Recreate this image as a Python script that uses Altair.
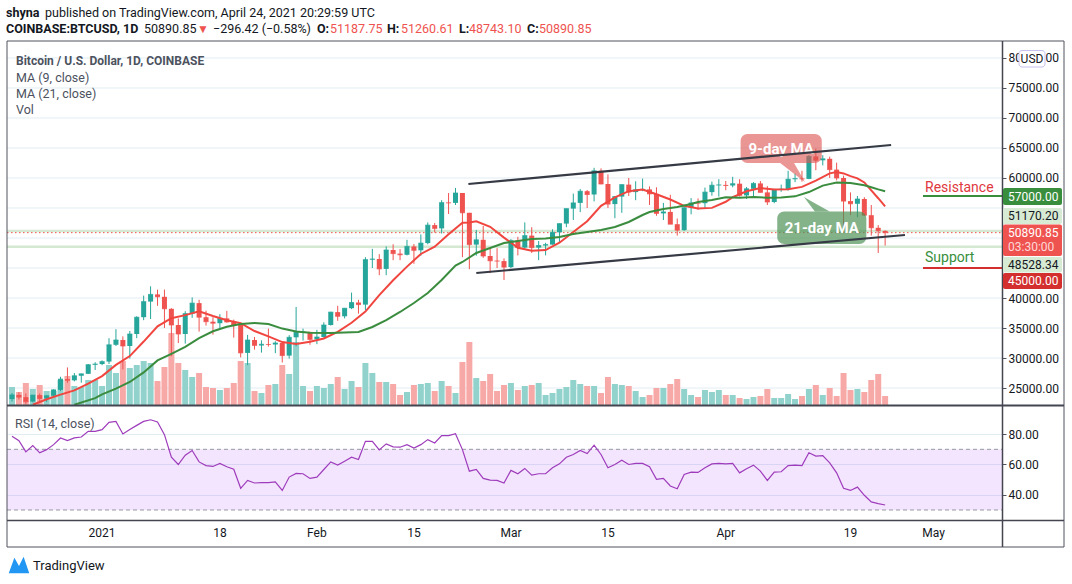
import altair as alt
import pandas as pd

# ------------------------------------------------------------------ data
dates = pd.date_range("2020-12-19", "2021-04-24", freq="D").strftime("%Y-%m-%dT00:00:00Z").tolist()

opens = [
    23150, 23850, 23480, 22730, 23820, 23250, 23720, 24690, 26480, 26280, 27040, 27360, 28880,
    28990, 29400, 32200, 33000, 32000, 34000, 36800, 39400, 40600, 40200, 38200, 35500, 34000, 37400, 39150, 36800,
    36050, 35800, 36600, 36000, 35500, 30850, 33000, 32100, 32300, 32250, 32500, 30400, 33450, 34300, 34350,
    33100, 33500, 35500, 37650, 36950, 38300, 39250, 38900, 46400, 46500, 44850, 48000, 47400, 47200, 48600,
    47950, 49150, 52150, 51600, 55900, 55850, 57500, 54200, 48900, 49700, 47000, 46200, 46150,
    45150, 49600, 48400, 50400, 48400, 48750, 48900, 50950, 52400, 54900, 55850, 57800, 57250, 61200, 59000,
    55650, 56900, 58900, 57650, 58050, 58100, 57350, 54100, 54350, 52300, 51300, 55050, 55850, 55800, 57650, 58800,
    58850, 58750, 59050, 57100, 58200, 59100, 57600, 56000, 58100, 58150, 59800, 59900, 59850, 63600, 62950,
    63200, 61400, 60000, 56150, 55700, 56500, 53800, 51700, 51187.75,
]
highs = [
    24170, 24300, 24100, 23850, 24100, 23790, 24770, 26870, 28420, 27500, 27400, 29000, 29300,
    29600, 33300, 34800, 33600, 34500, 36950, 40400, 41950, 41400, 41400, 38300, 36600, 37800, 40100, 39700, 37900,
    36800, 37300, 37850, 36400, 35600, 33850, 33500, 32950, 34900, 32800, 32550, 33800, 38500, 34900, 34350,
    34700, 35950, 37700, 38700, 38300, 40900, 39700, 46800, 48200, 47300, 48600, 48950, 48150, 49700, 49000,
    50600, 52600, 52500, 56300, 57500, 58350, 57500, 54200, 51350, 52000, 48400, 48300, 46600,
    49800, 50200, 52600, 51800, 49500, 49200, 51450, 52400, 54900, 57400, 58150, 58000, 61700, 61600, 60600,
    56950, 58950, 60000, 59450, 59900, 58600, 58450, 55850, 57200, 53250, 55100, 56650, 56600, 58400, 59400, 59800,
    59500, 60200, 59800, 58500, 59300, 59500, 58650, 58150, 58900, 61200, 60700, 61200, 63800, 64900, 63800,
    63550, 62550, 60400, 57600, 57000, 56800, 55500, 52150, 51260.61,
]
lows = [
    22750, 23070, 22350, 22600, 22700, 22700, 23430, 24500, 25850, 26100, 25880, 27320, 28000,
    28800, 29000, 32000, 28100, 29900, 33300, 36300, 36500, 38700, 35000, 30300, 32500, 32400, 36700, 34400, 35400,
    33900, 34800, 35900, 33400, 30100, 28800, 31400, 30900, 31900, 30800, 29250, 29900, 31950, 32900, 32200,
    32300, 33400, 35400, 36200, 36600, 38150, 37400, 38000, 45000, 43800, 43800, 46300, 46300, 47100, 45700,
    47050, 48950, 50900, 50750, 54000, 55500, 46800, 44800, 47050, 46700, 44150, 45000, 43000,
    45000, 47100, 48200, 47500, 46300, 47100, 48900, 49300, 51800, 53000, 54300, 55000, 56100, 58950, 55000,
    53300, 54200, 57000, 56300, 57800, 55500, 53700, 53000, 52500, 50400, 51200, 53950, 54700, 54900, 57050, 56900,
    57950, 58450, 56900, 56500, 56800, 57600, 55500, 55800, 57700, 57900, 59300, 59400, 59800, 61300, 62100,
    60000, 59600, 51000, 53800, 53450, 53650, 50400, 47500, 48743.10,
]
closes = [
    23850, 23480, 22730, 23820, 23250, 23720, 24690, 26480, 26280, 27040, 27360, 28880, 28990,
    29400, 32200, 33000, 32000, 34000, 36800, 39400, 40600, 40200, 38200, 35500, 34000, 37400, 39150, 36800, 36050,
    35800, 36600, 36000, 35500, 30850, 33000, 32100, 32300, 32250, 32500, 30400, 33450, 34300, 34350, 33100,
    33500, 35500, 37650, 36950, 38300, 39250, 38900, 46400, 46500, 44850, 48000, 47400, 47200, 48600, 47950,
    49150, 52150, 51600, 55900, 55850, 57500, 54200, 48900, 49700, 47000, 46200, 46150, 45150,
    49600, 48400, 50400, 48400, 48750, 48900, 50950, 52400, 54900, 55850, 57800, 57250, 61200, 59000, 55650,
    56900, 58900, 57650, 58050, 58100, 57350, 54100, 54350, 52300, 51300, 55050, 55850, 55800, 57650, 58800, 58850,
    58750, 59050, 57100, 58200, 59100, 57600, 56000, 58100, 58150, 59800, 59900, 59850, 63600, 62950, 63200,
    61400, 60000, 56150, 55700, 56500, 53800, 51700, 51187.75, 50890.85,
]
# volume, thousand BTC
volumes = [
    18, 13, 22, 16, 20, 14, 14, 25, 29, 19, 18, 25, 25,
    19, 40, 32, 44, 37, 40, 44, 42, 24, 38, 72, 42, 35, 28, 32, 18, 17, 15, 17, 22, 44, 42, 14, 12, 20, 21, 40, 31, 63, 19, 14,
    19, 17, 21, 28, 16, 24, 18, 42, 32, 23, 23, 21, 10, 13, 20, 21, 22, 14, 24, 19, 12, 43, 63, 27, 24, 31, 14, 20,
    22, 15, 19, 20, 22, 10, 12, 16, 18, 25, 21, 19, 19, 12, 28, 21, 20, 19, 14, 8, 10, 17, 17, 21, 26, 16, 10, 8, 15, 13, 15,
    10, 10, 7, 6, 8, 9, 16, 7, 7, 11, 6, 9, 16, 20, 10, 17, 9, 32, 15, 16, 13, 25, 31, 9,
]
rsi_values = [
    78.6, 75.7, 68.3, 72.5, 67.7, 69.8, 73.1, 77.5, 75.7, 77.5, 78.1, 81.9, 81.9,
    83.0, 87.8, 88.4, 80.1, 83.0, 85.8, 88.4, 89.5, 88.0, 79.7, 64.8, 60.0, 66.1, 69.2, 61.7, 59.3, 58.7, 60.7,
    58.5, 56.9, 44.3, 49.5, 47.8, 48.0, 48.0, 48.6, 42.9, 51.7, 54.1, 53.9, 50.8,
    51.7, 56.7, 61.7, 59.6, 62.2, 64.8, 63.3, 75.3, 75.3, 69.6, 73.6, 71.6, 71.4, 73.1, 70.9, 73.1, 76.4, 74.2,
    79.0, 79.0, 80.3, 69.8, 55.6, 56.7, 50.8, 49.7, 49.5, 47.8,
    56.1, 53.9, 57.4, 53.0, 53.9, 53.9, 57.8, 60.4, 64.8, 66.6, 69.2, 67.2, 72.7, 66.6, 57.8, 60.0, 62.8, 60.0,
    60.7, 60.7, 58.5, 50.2, 50.8, 45.8, 44.0, 53.4, 55.0, 54.8, 57.8, 60.4, 60.7,
    60.4, 60.7, 54.5, 57.2, 59.6, 55.6, 49.5, 55.0, 55.2, 59.3, 59.6, 59.3, 67.7, 65.5, 65.9, 61.1, 54.5, 44.3,
    42.9, 45.1, 39.7, 35.3, 34.2, 33.3,
]

ma9_dates = [
    "2020-12-22", "2020-12-24", "2020-12-26", "2020-12-28", "2020-12-30",
    "2021-01-01", "2021-01-03", "2021-01-05", "2021-01-07", "2021-01-09", "2021-01-11", "2021-01-13", "2021-01-15",
    "2021-01-17", "2021-01-19", "2021-01-21", "2021-01-23", "2021-01-25", "2021-01-27", "2021-01-29", "2021-01-31",
    "2021-02-02", "2021-02-04", "2021-02-06", "2021-02-08", "2021-02-10", "2021-02-12", "2021-02-14", "2021-02-16",
    "2021-02-18", "2021-02-20", "2021-02-22", "2021-02-23", "2021-02-24", "2021-02-26", "2021-02-28",
    "2021-03-02", "2021-03-04", "2021-03-06", "2021-03-08", "2021-03-10", "2021-03-12", "2021-03-14", "2021-03-16",
    "2021-03-18", "2021-03-20", "2021-03-22", "2021-03-24", "2021-03-26", "2021-03-28", "2021-03-30",
    "2021-04-01", "2021-04-02", "2021-04-04", "2021-04-06", "2021-04-08", "2021-04-10", "2021-04-12", "2021-04-14",
    "2021-04-16", "2021-04-17", "2021-04-18", "2021-04-19", "2021-04-20", "2021-04-21", "2021-04-22", "2021-04-23",
    "2021-04-24",
]
ma9_values = [
    22200, 23120, 23900, 24610, 25720,
    26980, 28850, 30320, 32740, 35290, 36630, 37150, 37800, 37010, 36300, 35800, 34500, 33600, 32650, 32350, 32700,
    33260, 34360, 35880, 37730, 40480, 42950, 45230, 47340, 48540, 50640, 52540, 52580, 52770, 51870, 50070,
    48370, 47890, 47990, 49220, 50990, 52800, 55360, 56770, 57800, 58080, 57300, 56410, 55360, 54910, 55020,
    56040, 56790, 57780, 58340, 58080, 58120, 58520, 59550, 60770, 60980, 60760, 60310, 59930, 59260, 57930, 56630,
    55260,
]
ma21_dates = [
    "2020-12-28", "2020-12-31", "2021-01-01", "2021-01-03", "2021-01-05", "2021-01-07", "2021-01-09", "2021-01-11",
    "2021-01-13", "2021-01-15", "2021-01-17", "2021-01-19", "2021-01-21", "2021-01-23", "2021-01-25", "2021-01-27",
    "2021-01-29", "2021-01-31", "2021-02-03", "2021-02-05", "2021-02-07", "2021-02-09", "2021-02-11", "2021-02-13",
    "2021-02-15", "2021-02-17", "2021-02-19", "2021-02-21", "2021-02-22", "2021-02-24", "2021-02-26", "2021-02-28",
    "2021-03-02", "2021-03-04", "2021-03-06", "2021-03-08", "2021-03-10", "2021-03-12", "2021-03-14", "2021-03-16",
    "2021-03-18", "2021-03-20", "2021-03-21", "2021-03-23", "2021-03-25", "2021-03-27", "2021-03-28", "2021-03-30",
    "2021-04-01", "2021-04-03", "2021-04-05", "2021-04-07", "2021-04-09", "2021-04-11", "2021-04-13", "2021-04-15",
    "2021-04-17", "2021-04-19", "2021-04-21", "2021-04-22", "2021-04-23", "2021-04-24",
]
ma21_values = [
    22200, 23300, 23950, 24900, 26000, 27600, 29600, 30700,
    31850, 33300, 34450, 35200, 35650, 35850, 35650, 34900,
    34400, 34200, 34170, 34250, 34330, 35170, 36330, 37670,
    39170, 40830, 43000, 45400, 46000, 47500, 48330, 49170,
    49500, 49830, 49900, 50170, 50670, 51000, 51330, 51830,
    52670, 53830, 54330, 54830, 55170, 55670, 56000, 56330,
    56800, 56690, 56820, 56710, 56740, 56940, 57660, 58730,
    59230, 59160, 58800, 58470, 58100, 57800,
]

trend_dates = ["2021-02-22T20:40:00Z", "2021-04-24T20:40:00Z", "2021-02-24T00:00:00Z", "2021-04-26T20:40:00Z"]
trend_prices = [59000, 65500, 44170, 50500]
trend_ids = ["upper", "upper", "lower", "lower"]

level_prices = [51170.20, 48528.34]
last_price = 50890.85
resistance_price = 57000
support_price = 45000

price_ticks = list(range(25000, 80001, 5000))
price_hidden = [45000, 50000, 55000]          # labels covered by price tags
rsi_ticks = [40, 60, 80]
rsi_band = [70, 30]
date_ticks = ["2021-01-01", "2021-01-18", "2021-02-01", "2021-02-15", "2021-03-01",
              "2021-03-15", "2021-04-01", "2021-04-19", "2021-05-01"]
date_labels = ["2021", "18", "Feb", "15", "Mar", "15", "Apr", "19", "May"]

# callout annotations (date / price anchors)
c9_box = {"d1": ["2021-04-03T03:25:00Z"], "d2": ["2021-04-14T20:35:00Z"], "p1": [67333], "p2": [62500]}
c9_tail = {"d": ["2021-04-08T20:35:00Z", "2021-04-10T20:35:00Z", "2021-04-12T10:17:00Z"],
           "top": [62500, 62500, 59333], "bot": [62500, 60727, 59333]}
c9_text = {"d": ["2021-04-09T00:00:00Z"], "p": [64850]}
c21_box = {"d1": ["2021-04-08T10:17:00Z"], "d2": ["2021-04-21T06:51:00Z"], "p1": [54400], "p2": [49000]}
c21_tail = {"d": ["2021-04-12T06:51:00Z", "2021-04-13T20:34:00Z", "2021-04-16T00:00:00Z"],
            "top": [56833, 55775, 54400], "bot": [56833, 54400, 54400]}
c21_text = {"d": ["2021-04-14T20:35:00Z"], "p": [51700]}

# ------------------------------------------------------------------ style / layout
W, H = 995, 479
MAIN_H = 364
RSI_TOP = 366
FONT = "Roboto"
UP, DOWN = "#26a69a", "#ef5350"
UPV, DOWNV = "#92d2cc", "#f7a9a7"
MA9_C, MA21_C = "#f0463f", "#3a8c3e"
GRID = "#e1ecf2"
TXT = "#131722"
LEG = "#4c525e"
FRAME = "#50535e"
TREND = "#363a45"
RSI_C = "#9e3cbb"


def to_ms(s):
    return int(pd.Timestamp(s, tz="UTC").value // 10**6)


t0 = to_ms("2020-12-19")
xscale = alt.Scale(type="utc", domain=[t0, t0 + W / 7 * 86400000], nice=False)
xaxis = alt.Axis(values=[to_ms(d) for d in date_ticks], grid=True, gridColor=GRID, ticks=False,
                 domain=False, labels=False, title=None)
pscale = alt.Scale(domain=[22167, 82833], range=[MAIN_H, 0], zero=False, nice=False)
pscale_c = alt.Scale(domain=[22167, 82833], range=[MAIN_H, 0], zero=False, nice=False, clamp=True)
vscale = alt.Scale(domain=[0, MAIN_H], range=[MAIN_H, 0], nice=False)
rscale = alt.Scale(domain=[23.40, 97.91], range=[H, RSI_TOP], zero=False, nice=False)

price_axis = alt.Axis(orient="right", values=[v for v in price_ticks if v not in price_hidden], format=".2f",
                      grid=False, domain=False, tickSize=4, tickColor=FRAME, labelPadding=2, labelFontSize=12,
                      labelColor=TXT, labelFont=FONT, title=None, labelOverlap=False)
rsi_axis = alt.Axis(orient="right", values=rsi_ticks, format=".2f", grid=True, gridColor=GRID,
                    domain=False, tickSize=4, tickColor=FRAME, labelPadding=2, labelFontSize=12,
                    labelColor=TXT, labelFont=FONT, title=None, labelOverlap=False)

df = pd.DataFrame({"date": dates, "o": opens, "h": highs, "l": lows, "c": closes, "v": volumes})
rsi_df = pd.DataFrame({"date": dates, "r": rsi_values})
ma9_df = pd.DataFrame({"date": [d + "T00:00:00Z" for d in ma9_dates], "m": ma9_values})
ma21_df = pd.DataFrame({"date": [d + "T00:00:00Z" for d in ma21_dates], "m": ma21_values})
trend_df = pd.DataFrame({"date": trend_dates, "p": trend_prices, "id": trend_ids})
xlab_df = pd.DataFrame({"date": [d + "T00:00:00Z" for d in date_ticks], "lab": date_labels})
one = pd.DataFrame({"k": [0]})

up = "datum.c >= datum.o"
X = alt.X("date:T", scale=xscale, axis=None)


def text(t, x, y, color=TXT, size=12.5, weight="normal", align="left", font=FONT):
    return alt.Chart(one).mark_text(text=t, color=color, fontSize=size, fontWeight=weight, align=align,
                                    baseline="middle", font=font).encode(x=alt.value(x), y=alt.value(y))


def rect(x1, x2, y1, y2, fill, stroke=None, radius=0, fill_opacity=1.0):
    kw = dict(fill=fill, cornerRadius=radius, fillOpacity=fill_opacity)
    if stroke:
        kw.update(stroke=stroke, strokeWidth=1)
    return alt.Chart(one).mark_rect(**kw).encode(x=alt.value(x1), x2=alt.value(x2),
                                                 y=alt.value(y1), y2=alt.value(y2))


def hline(x1, x2, y, color, width):
    return alt.Chart(one).mark_rule(color=color, strokeWidth=width).encode(
        x=alt.value(x1), x2=alt.value(x2), y=alt.value(y))


def vline(x, y1, y2, color, width):
    return alt.Chart(one).mark_rule(color=color, strokeWidth=width).encode(
        x=alt.value(x), y=alt.value(y1), y2=alt.value(y2))


layers = []

# price grid
layers.append(alt.Chart(pd.DataFrame({"p": price_ticks})).mark_rule(color=GRID, strokeWidth=1).encode(
    x=alt.value(0), x2=alt.value(W), y=alt.Y("p:Q", scale=pscale, axis=None)))

# RSI band + dashed bounds
layers.append(alt.Chart(pd.DataFrame({"a": [rsi_band[0]], "b": [rsi_band[1]]})).mark_rect(
    fill="#9915ff", fillOpacity=0.11).encode(
    x=alt.value(0), x2=alt.value(W), y=alt.Y("a:Q", scale=rscale, axis=None), y2="b:Q"))
layers.append(alt.Chart(pd.DataFrame({"lvl": rsi_band})).mark_rule(
    color="#9598a1", strokeDash=[4, 3], strokeWidth=1).encode(
    x=alt.value(0), x2=alt.value(W), y=alt.Y("lvl:Q", scale=rscale, axis=None)))
# RSI line (carries RSI axis and the date grid)
layers.append(alt.Chart(rsi_df).mark_line(color=RSI_C, strokeWidth=1.2).encode(
    x=alt.X("date:T", scale=xscale, axis=xaxis), y=alt.Y("r:Q", scale=rscale, axis=rsi_axis)))

# horizontal drawn levels
layers.append(alt.Chart(pd.DataFrame({"p": level_prices})).mark_rule(color="#d5e8d2", strokeWidth=2.5).encode(
    x=alt.value(0), x2=alt.value(W), y=alt.Y("p:Q", scale=pscale, axis=None)))
layers.append(alt.Chart(pd.DataFrame({"p": [last_price]})).mark_rule(
    color=DOWN, strokeWidth=1, strokeDash=[1.5, 2.5]).encode(
    x=alt.value(0), x2=alt.value(W), y=alt.Y("p:Q", scale=pscale, axis=None)))

# volume
layers.append(alt.Chart(df).mark_bar(size=6, clip=True).encode(
    x=X, y=alt.Y("v:Q", scale=vscale, axis=None),
    color=alt.condition(up, alt.value(UPV), alt.value(DOWNV))))

# candles
layers.append(alt.Chart(df).mark_rule(strokeWidth=1, clip=True).encode(
    x=X, y=alt.Y("h:Q", scale=pscale, axis=price_axis), y2="l:Q",
    color=alt.condition(up, alt.value(UP), alt.value(DOWN))))
layers.append(alt.Chart(df).mark_bar(size=5, clip=True).encode(
    x=X, y=alt.Y("o:Q", scale=pscale, axis=None), y2="c:Q",
    color=alt.condition(up, alt.value(UP), alt.value(DOWN))))
layers.append(alt.Chart(df).mark_tick(orient="horizontal", size=5, thickness=1, clip=True).encode(
    x=X, y=alt.Y("c:Q", scale=pscale, axis=None),
    color=alt.condition(up, alt.value(UP), alt.value(DOWN))))

# moving averages
layers.append(alt.Chart(ma9_df).mark_line(color=MA9_C, strokeWidth=2, clip=True).encode(
    x=X, y=alt.Y("m:Q", scale=pscale_c, axis=None)))
layers.append(alt.Chart(ma21_df).mark_line(color=MA21_C, strokeWidth=2, clip=True).encode(
    x=X, y=alt.Y("m:Q", scale=pscale_c, axis=None)))

# callouts
for box, tail, lab, txt, col, op in [
    (c9_box, c9_tail, c9_text, "9-day MA", "#dd5553", 0.62),
    (c21_box, c21_tail, c21_text, "21-day MA", "#4a8f52", 0.68),
]:
    layers.append(alt.Chart(pd.DataFrame(box)).mark_rect(fill=col, fillOpacity=op, cornerRadius=7).encode(
        x=alt.X("d1:T", scale=xscale, axis=None), x2="d2:T",
        y=alt.Y("p1:Q", scale=pscale, axis=None), y2="p2:Q"))
    layers.append(alt.Chart(pd.DataFrame(tail)).mark_area(fill=col, fillOpacity=op, orient="vertical").encode(
        x=alt.X("d:T", scale=xscale, axis=None),
        y=alt.Y("top:Q", scale=pscale, axis=None), y2="bot:Q"))
    layers.append(alt.Chart(pd.DataFrame(lab)).mark_text(
        text=txt, color="white", fontSize=15, fontWeight="bold", font=FONT, align="center", baseline="middle").encode(
        x=alt.X("d:T", scale=xscale, axis=None), y=alt.Y("p:Q", scale=pscale, axis=None)))

# trend channel
layers.append(alt.Chart(trend_df).mark_line(color=TREND, strokeWidth=2.2, clip=True).encode(
    x=X, y=alt.Y("p:Q", scale=pscale, axis=None), detail="id:N"))

# resistance / support
layers.append(alt.Chart(pd.DataFrame({"p": [resistance_price]})).mark_rule(color="#388e3c", strokeWidth=2).encode(
    x=alt.value(916), x2=alt.value(W), y=alt.Y("p:Q", scale=pscale, axis=None)))
layers.append(alt.Chart(pd.DataFrame({"p": [support_price]})).mark_rule(color="#d32f2f", strokeWidth=2).encode(
    x=alt.value(916), x2=alt.value(W), y=alt.Y("p:Q", scale=pscale, axis=None)))
layers.append(text("Resistance", 918, 147, color="#e0393e", size=14))
layers.append(text("Support", 918, 217, color="#388e3c", size=14))

# date labels under the RSI pane
layers.append(alt.Chart(xlab_df).mark_text(color=TXT, fontSize=12, font=FONT, baseline="middle").encode(
    x=alt.X("date:T", scale=xscale, axis=None), y=alt.value(492), text="lab:N"))

# frame and separators
layers.append(rect(0, 1057, 0, 506, "white", stroke=FRAME, fill_opacity=0))
layers.append(hline(0, 1057, MAIN_H + 0.5, "#434651", 2))
layers.append(hline(0, 1057, H + 0.5, "#434651", 1.5))
layers.append(vline(W + 0.5, 0, 506, "#434651", 1.5))

# right-axis tags
layers.append(rect(1012, 1038, 9.5, 26, "white", stroke="#c5c0ef", radius=3))
layers.append(text("USD", 1025, 18, size=12, align="center"))
layers.append(rect(W + 1, 1055, 147, 164, "#388e3c", radius=2))
layers.append(text("57000.00", 1001, 155.5, color="white", size=12))
layers.append(rect(W + 1, 1055, 167, 183, "#d7ead4", radius=2))
layers.append(text("51170.20", 1001, 175, size=12))
layers.append(rect(W + 1, 1055, 183.5, 215, "#ef5350", radius=2))
layers.append(text("50890.85", 1001, 192, color="white", size=12))
layers.append(text("03:30:00", 1001, 206, color="#fcd9d8", size=12))
layers.append(rect(W + 1, 1055, 216, 231.5, "#d7ead4", radius=2))
layers.append(text("48528.34", 1001, 224, size=12))
layers.append(rect(W + 1, 1055, 232, 248, "#d32f2f", radius=2))
layers.append(text("45000.00", 1001, 240, color="white", size=12))

# header
layers.append(text("shyna", -1, -28, weight="bold"))
layers.append(text("published on TradingView.com, April 24, 2021 20:29:59 UTC", 38, -28))
layers.append(text("COINBASE:BTCUSD, 1D", -1, -12, weight="bold"))
layers.append(text("50890.85", 137, -12))
layers.append(text("\u25bc", 190, -12, color=DOWN, size=12))
layers.append(text("\u2212296.42 (\u22120.58%)", 206, -12))
for lbl, val, xl, xv in [("O:", "51187.75", 310, 323), ("H:", "51260.61", 380, 394),
                         ("L:", "48743.10", 452, 462), ("C:", "50890.85", 520, 532)]:
    layers.append(text(lbl, xl, -12, weight="bold"))
    layers.append(text(val, xv, -12, color=DOWN))

# pane legends
layers.append(text("Bitcoin / U.S. Dollar, 1D, COINBASE", 9, 20, color=LEG, size=12, weight="bold"))
layers.append(text("MA (9, close)", 9, 37, color=LEG, size=12.5))
layers.append(text("MA (21, close)", 9, 53, color=LEG, size=12.5))
layers.append(text("Vol", 9, 69, color=LEG, size=12.5))
layers.append(text("RSI (14, close)", 8, 383, color=LEG, size=12.5))

# TradingView mark
layers.append(alt.Chart(one).mark_point(
    shape="M -1 0.8 L -0.45 -0.7 L 0 0.1 L 0.45 -0.8 L 1 0.8 Z", filled=True, size=420,
    color="#2196f3", opacity=1).encode(x=alt.value(12), y=alt.value(524)))
layers.append(text("TradingView", 26, 525, size=13))

chart = alt.layer(*layers).resolve_scale(y="independent").properties(
    width=W, height=H,
    padding={"left": 7, "top": 41, "right": 70, "bottom": 64},
    autosize=alt.AutoSizeParams(type="none"),
    background="white",
).configure_view(stroke=None)

chart.save("out.html", embed_options={"renderer": "svg", "actions": False})
